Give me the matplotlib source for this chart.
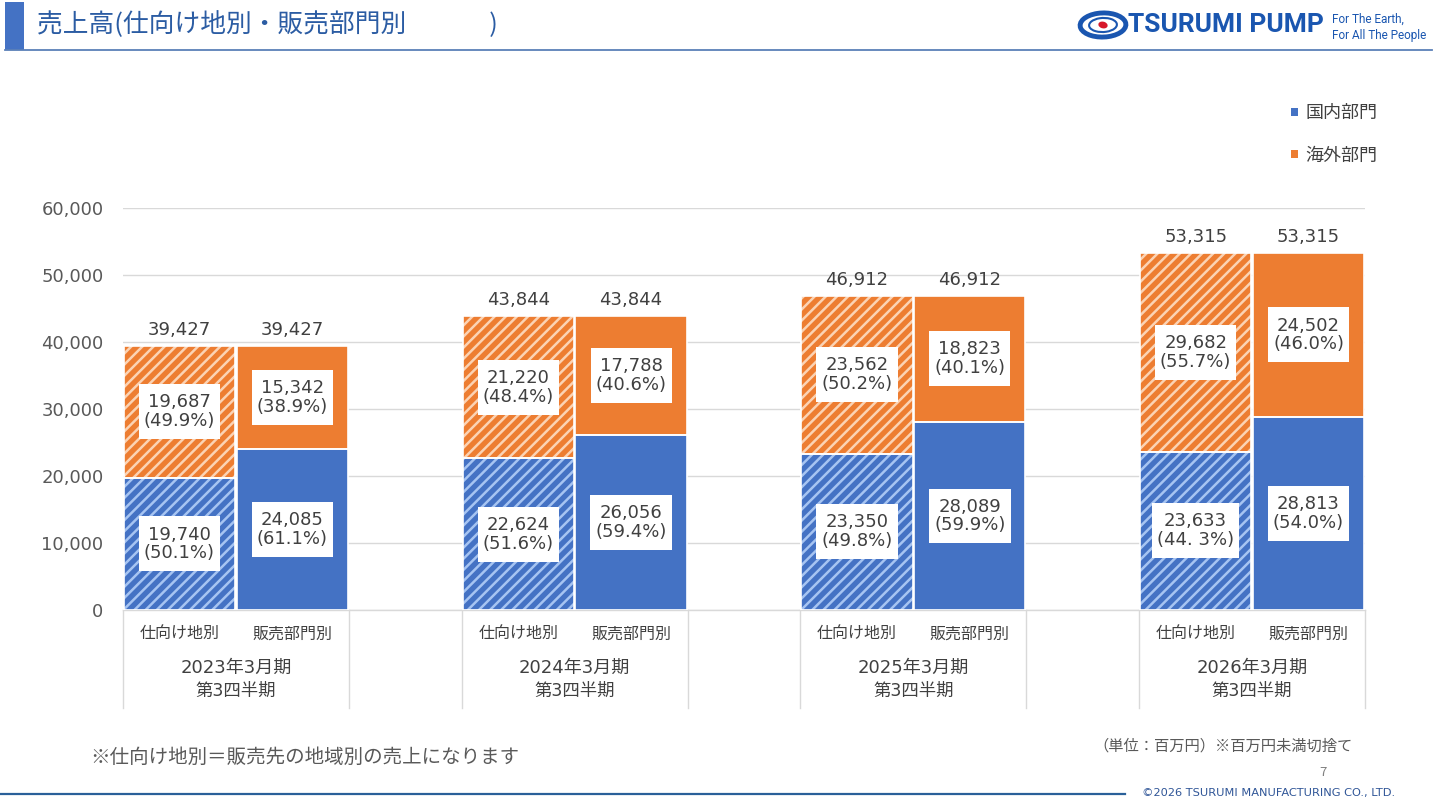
import matplotlib
matplotlib.use("Agg")
import matplotlib.pyplot as plt
from matplotlib.patches import Rectangle, Ellipse, Patch
from matplotlib.lines import Line2D
from matplotlib.path import Path

plt.rcParams['font.family'] = ['Noto Sans CJK JP', 'DejaVu Sans']
plt.rcParams['hatch.linewidth'] = 1.8

# ---------------- data ----------------
years = ['2023年3月期', '2024年3月期', '2025年3月期', '2026年3月期']
quarter = '第3四半期'
bar_types = ['仕向け地別', '販売部門別']
series_names = ['国内部門', '海外部門']

dest_domestic = [19740, 22624, 23350, 23633]
dest_overseas = [19687, 21220, 23562, 29682]
dept_domestic = [24085, 26056, 28089, 28813]
dept_overseas = [15342, 17788, 18823, 24502]
totals = [39427, 43844, 46912, 53315]

dest_domestic_pct = ['50.1%', '51.6%', '49.8%', '44. 3%']
dest_overseas_pct = ['49.9%', '48.4%', '50.2%', '55.7%']
dept_domestic_pct = ['61.1%', '59.4%', '59.9%', '54.0%']
dept_overseas_pct = ['38.9%', '40.6%', '40.1%', '46.0%']

yticks = [0, 10000, 20000, 30000, 40000, 50000, 60000]

# ---------------- style ----------------
BLUE = '#4472C4'
ORANGE = '#ED7D31'
BLUE_L = '#a6c4f2'
ORANGE_L = '#fbd3b4'
TXT = '#404040'
NUMFONT = ['DejaVu Sans', 'Noto Sans CJK JP']

W, H = 1440, 810
fig = plt.figure(figsize=(14.4, 8.1), dpi=100)


def fx(x):
    return x / W


def fy(y):
    return 1 - y / H


def label_box(x0, y0, width, height, mutation_size):
    px = 0.28 * mutation_size
    py = 0.5 * mutation_size
    x0 -= px
    y0 -= py
    x1 = x0 + width + 2 * px
    y1 = y0 + height + 2 * py
    return Path([(x0, y0), (x1, y0), (x1, y1), (x0, y1), (x0, y0)], closed=True)


ax = fig.add_axes([fx(123), fy(610), fx(1365) - fx(123), fy(208) - fy(610)])

n_groups = len(years)
pos_dest = [3 * g for g in range(n_groups)]
pos_dept = [3 * g + 1 for g in range(n_groups)]
bw = 0.985

# destination bars (hatched)
ax.bar(pos_dest, dest_domestic, width=bw, color=BLUE, edgecolor=BLUE_L, hatch='///', linewidth=0, zorder=2)
ax.bar(pos_dest, dest_overseas, bottom=dest_domestic, width=bw, color=ORANGE, edgecolor=ORANGE_L,
       hatch='///', linewidth=0, zorder=2)
# department bars (solid)
ax.bar(pos_dept, dept_domestic, width=bw, color=BLUE, linewidth=0, zorder=2)
ax.bar(pos_dept, dept_overseas, bottom=dept_domestic, width=bw, color=ORANGE, linewidth=0, zorder=2)
# white separators
ax.bar(pos_dest + pos_dept, dest_domestic + dept_domestic, width=bw, fill=False, edgecolor='white',
       linewidth=1.2, zorder=3)
ax.bar(pos_dest + pos_dept, dest_overseas + dept_overseas, bottom=dest_domestic + dept_domestic,
       width=bw, fill=False, edgecolor='white', linewidth=1.2, zorder=3)

box = dict(boxstyle=label_box, facecolor='white', edgecolor='none')
lab_kw = dict(ha='center', va='center', fontsize=13, color=TXT, bbox=box, zorder=5, linespacing=1.05,
              family=NUMFONT)

for g in range(n_groups):
    ax.text(pos_dest[g], dest_domestic[g] / 2, f"{dest_domestic[g]:,}\n({dest_domestic_pct[g]})", **lab_kw)
    ax.text(pos_dest[g], dest_domestic[g] + dest_overseas[g] / 2,
            f"{dest_overseas[g]:,}\n({dest_overseas_pct[g]})", **lab_kw)
    ax.text(pos_dept[g], dept_domestic[g] / 2, f"{dept_domestic[g]:,}\n({dept_domestic_pct[g]})", **lab_kw)
    ax.text(pos_dept[g], dept_domestic[g] + dept_overseas[g] / 2,
            f"{dept_overseas[g]:,}\n({dept_overseas_pct[g]})", **lab_kw)
    for p in (pos_dest[g], pos_dept[g]):
        ax.annotate(f"{totals[g]:,}", (p, totals[g]), xytext=(0, 5), textcoords='offset points',
                    ha='center', va='bottom', fontsize=13, color=TXT, clip_on=False, family=NUMFONT)

ax.set_xlim(-0.5, 3 * n_groups - 1.5)
ax.set_ylim(0, 60000)
ax.set_yticks(yticks)
ax.set_yticklabels([f"{v:,}" for v in yticks], fontsize=13, color='#595959', family=NUMFONT)
ax.tick_params(axis='y', length=0, pad=14)
ax.set_xticks(pos_dest + pos_dept)
ax.set_xticklabels([bar_types[0]] * n_groups + [bar_types[1]] * n_groups, fontsize=11.5, color=TXT)
ax.tick_params(axis='x', length=0, pad=11)
ax.grid(axis='y', color='#d9d9d9', linewidth=1, zorder=0)
ax.set_axisbelow(True)
for s in ('left', 'right', 'top'):
    ax.spines[s].set_visible(False)
ax.spines['bottom'].set_color('#d9d9d9')
ax.spines['bottom'].set_linewidth(1)

# category group labels and separators
xtr = ax.get_xaxis_transform()
bottom_frac = -98 / 402
for g in range(n_groups):
    c = (pos_dest[g] + pos_dept[g]) / 2
    ax.text(c, -58 / 402, years[g], transform=xtr, ha='center', va='center', fontsize=13, color=TXT,
            family=NUMFONT)
    ax.text(c, -81 / 402, quarter, transform=xtr, ha='center', va='center', fontsize=12.5, color=TXT,
            family=NUMFONT)
    for xb in (pos_dest[g] - 0.5, pos_dept[g] + 0.5):
        ax.plot([xb, xb], [0, bottom_frac], transform=xtr, color='#d9d9d9', linewidth=1, clip_on=False)

# legend
handles = [Patch(facecolor=BLUE, edgecolor='none'), Patch(facecolor=ORANGE, edgecolor='none')]
leg = fig.legend(handles, series_names, loc='upper left', bbox_to_anchor=(fx(1275), fy(88)),
                 frameon=False, fontsize=13, handlelength=0.35, handleheight=0.35, handletextpad=0.45,
                 labelspacing=1.35, labelcolor=TXT)

# ---------------- header ----------------
fig.add_artist(Rectangle((fx(5), fy(50)), fx(19), fy(2) - fy(50), transform=fig.transFigure,
                         facecolor=BLUE, edgecolor='none'))
fig.add_artist(Line2D([fx(5), fx(1432)], [fy(49.5), fy(49.5)], transform=fig.transFigure,
                      color='#5b80b8', linewidth=1.3))
fig.text(fx(37), fy(25), '売上高(仕向け地別・販売部門別　　　 )', fontsize=18.5, color='#2b5ca3',
         ha='left', va='center')

# logo
fig.add_artist(Ellipse((fx(1103), fy(25)), fx(46), fy(0) - fy(24), angle=15, transform=fig.transFigure,
                       facecolor='none', edgecolor='#1a56b0', linewidth=3.5))
fig.add_artist(Ellipse((fx(1103), fy(25)), fx(28), fy(0) - fy(14), angle=15, transform=fig.transFigure,
                       facecolor='none', edgecolor='#1a56b0', linewidth=1.5))
fig.add_artist(Ellipse((fx(1103), fy(25)), fx(9), fy(0) - fy(7), angle=15, transform=fig.transFigure,
                       facecolor='#d7182a', edgecolor='none'))
fig.text(fx(1128), fy(25), 'TSURUMI PUMP', family=['Roboto', 'DejaVu Sans'], fontweight='bold',
         fontsize=19, color='#1a56b0', ha='left', va='center')
fig.text(fx(1332), fy(19), 'For The Earth,', family=['Roboto', 'DejaVu Sans'], fontsize=8.5,
         color='#1a56b0', ha='left', va='center')
fig.text(fx(1332), fy(35), 'For All The People', family=['Roboto', 'DejaVu Sans'], fontsize=8.5,
         color='#1a56b0', ha='left', va='center')

# ---------------- footer ----------------
fig.text(fx(90), fy(757), '※仕向け地別＝販売先の地域別の売上になります', fontsize=14, color='#595959',
         ha='left', va='center')
fig.text(fx(1353), fy(746), '（単位：百万円）※百万円未満切捨て', fontsize=11, color='#595959',
         ha='right', va='center')
fig.text(fx(1323), fy(773), '7', fontsize=9.5, color='#808080', ha='center', va='center')
fig.add_artist(Line2D([fx(0), fx(1125)], [fy(794), fy(794)], transform=fig.transFigure,
                      color='#2a6099', linewidth=1.6))
fig.text(fx(1142), fy(793), '©2026 TSURUMI MANUFACTURING CO., LTD.', family=['DejaVu Sans'],
         fontsize=8.2, color='#2f5597', ha='left', va='center')

fig.savefig('out.png', dpi=100, facecolor='white')
